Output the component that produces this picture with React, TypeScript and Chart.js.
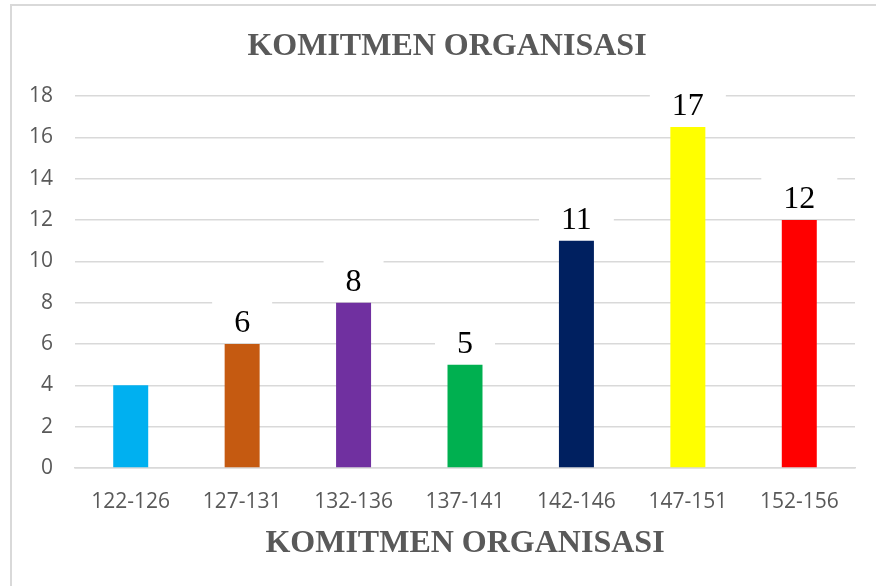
import React, { useEffect, useRef } from "react";
import { Chart, registerables } from "chart.js";

Chart.register(...registerables);

const categories = ["122-126", "127-131", "132-136", "137-141", "142-146", "147-151", "152-156"];
const values = [4, 6, 8, 5, 11, 16.5, 12];
const valueLabels = ["", "6", "8", "5", "11", "17", "12"];
const barColors = ["#00B0F0", "#C55A11", "#7030A0", "#00B050", "#002060", "#FFFF00", "#FF0000"];
const yMin = 0;
const yMax = 18;
const yStep = 2;
const chartTitle = "KOMITMEN ORGANISASI";
const xAxisTitle = "KOMITMEN ORGANISASI";

const CANVAS_W = 870;
const CANVAS_H = 600;

const labelPlugin = {
  id: "barValueLabels",
  afterDatasetsDraw(chart: any) {
    const ctx = chart.ctx as CanvasRenderingContext2D;
    const meta = chart.getDatasetMeta(0);
    ctx.save();
    ctx.font = "32px 'Liberation Serif', 'Times New Roman', serif";
    ctx.textAlign = "center";
    ctx.textBaseline = "middle";
    meta.data.forEach((bar: any, i: number) => {
      const text = valueLabels[i];
      if (!text) return;
      const cx = bar.x;
      const cy = bar.y - 21;
      const w = ctx.measureText(text).width + 44;
      ctx.fillStyle = "#ffffff";
      ctx.fillRect(cx - w / 2, cy - 27, w, 44);
      ctx.fillStyle = "#000000";
      ctx.fillText(text, cx, cy + 1);
    });
    ctx.restore();
  },
};

export default function App() {
  const canvasRef = useRef<HTMLCanvasElement | null>(null);

  useEffect(() => {
    if (!canvasRef.current) return;
    const chart = new Chart(canvasRef.current, {
      type: "bar",
      data: {
        labels: categories,
        datasets: [
          {
            data: values,
            backgroundColor: barColors,
            borderWidth: 0,
            barPercentage: 0.314,
            categoryPercentage: 1,
          },
        ],
      },
      options: {
        responsive: false,
        animation: false,
        layout: { padding: { left: 0, right: 0, top: 0, bottom: 38 } },
        plugins: {
          legend: { display: false },
          tooltip: { enabled: false },
          title: {
            display: true,
            text: chartTitle,
            color: "#595959",
            font: { family: "'Liberation Serif', 'Times New Roman', serif", size: 32, weight: "bold", lineHeight: 1.2 },
            padding: { top: 22, bottom: 29.6 },
          },
        },
        scales: {
          x: {
            grid: { display: false, drawTicks: false },
            border: { display: true, color: "#d9d9d9", width: 1.5 },
            ticks: {
              color: "#595959",
              font: { family: "'Open Sans', sans-serif", size: 21, lineHeight: 1.2 },
              padding: 21.5,
              maxRotation: 0,
              autoSkip: false,
            },
            title: {
              display: true,
              text: xAxisTitle,
              color: "#595959",
              font: { family: "'Liberation Serif', 'Times New Roman', serif", size: 32, weight: "bold", lineHeight: 1.2 },
              padding: { top: 0, bottom: 5 },
            },
            afterFit(scale: any) {
              scale.height = 100;
            },
          },
          y: {
            min: yMin,
            max: yMax,
            grid: { color: "#d9d9d9", lineWidth: 1.5, drawTicks: false },
            border: { display: false },
            ticks: {
              stepSize: yStep,
              color: "#595959",
              font: { family: "'Open Sans', sans-serif", size: 21, lineHeight: 1.2 },
              padding: 22,
            },
            afterFit(scale: any) {
              scale.width = 63;
            },
          },
          yRight: {
            type: "linear",
            position: "right",
            display: true,
            min: yMin,
            max: yMax,
            grid: { display: false, drawTicks: false },
            border: { display: false },
            ticks: { display: false },
            afterFit(scale: any) {
              scale.width = 27;
            },
          },
        },
      },
      plugins: [labelPlugin],
    });
    return () => chart.destroy();
  }, []);

  return (
    <div
      style={{
        position: "fixed",
        left: 0,
        top: 0,
        width: 876,
        height: 586,
        overflow: "hidden",
        background: "#ffffff",
      }}
    >
      <div
        style={{
          position: "absolute",
          left: 10,
          top: 4,
          width: 900,
          height: 640,
          border: "2px solid #d9d9d9",
        }}
      >
        <canvas
          ref={canvasRef}
          width={CANVAS_W}
          height={CANVAS_H}
          style={{ position: "absolute", left: 0, top: 0, width: CANVAS_W, height: CANVAS_H }}
        />
      </div>
    </div>
  );
}
